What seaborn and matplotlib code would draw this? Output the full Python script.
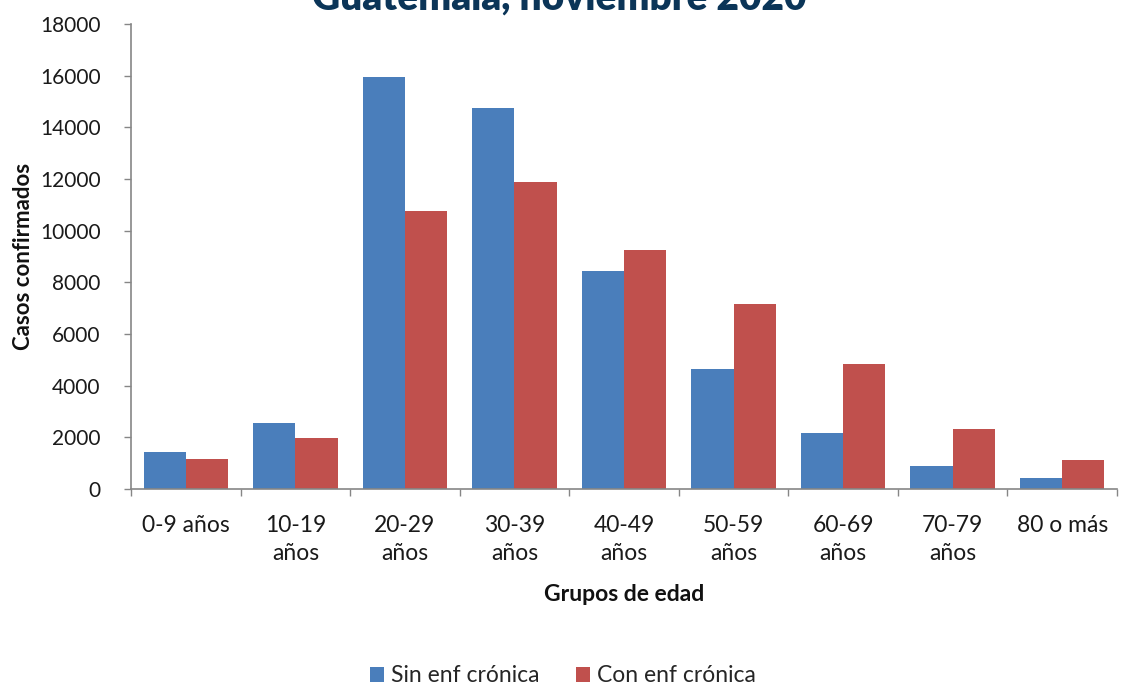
import matplotlib
matplotlib.use("Agg")
import matplotlib.pyplot as plt
import seaborn as sns
import pandas as pd
from matplotlib.patches import Patch

grupos = ["0-9 años", "10-19\naños", "20-29\naños", "30-39\naños", "40-49\naños",
          "50-59\naños", "60-69\naños", "70-79\naños", "80 o más"]
sin_enf = [1450, 2550, 15950, 14750, 8450, 4650, 2150, 900, 430]
con_enf = [1180, 1980, 10750, 11900, 9250, 7150, 4850, 2330, 1120]
series = ["Sin enf crónica", "Con enf crónica"]
colores = ["#4a7ebb", "#c0504d"]
yticks = list(range(0, 18001, 2000))

df = pd.DataFrame({
    "grupo": grupos * 2,
    "casos": sin_enf + con_enf,
    "serie": [series[0]] * len(grupos) + [series[1]] * len(grupos),
})

sns.set_theme(style="white")
plt.rcParams["font.family"] = ["Lato", "DejaVu Sans"]

fig = plt.figure(figsize=(11.23, 6.88), dpi=100)
ax = fig.add_axes([131 / 1123, 1 - 489 / 688, (1117 - 131) / 1123, (489 - 24) / 688])

sns.barplot(data=df, x="grupo", y="casos", hue="serie", palette=colores,
            width=0.77, saturation=1, linewidth=0, ax=ax, legend=False)

ax.set_xlim(-0.5, len(grupos) - 0.5)
ax.set_ylim(0, 18000)
ax.set_yticks(yticks)
ax.set_yticklabels([str(v) for v in yticks], fontsize=15, color="#1a1a1a")

# category labels centred under the bars, tick marks on the boundaries
ax.set_xticks([i - 0.5 for i in range(len(grupos) + 1)])
ax.set_xticklabels([])
ax.set_xticks(range(len(grupos)), minor=True)
ax.set_xticklabels(grupos, minor=True, fontsize=16.5, color="#1a1a1a", linespacing=1.45)
ax.tick_params(axis="x", which="major", length=5, width=1, color="#868686", direction="out", bottom=True)
ax.tick_params(axis="x", which="minor", length=0, pad=18.5)
ax.tick_params(axis="y", length=5, width=1, color="#868686", direction="out", left=True, pad=17)

for side in ["top", "right"]:
    ax.spines[side].set_visible(False)
for side in ["left", "bottom"]:
    ax.spines[side].set_color("#868686")
    ax.spines[side].set_linewidth(1.2)

ax.set_xlabel("Grupos de edad", fontsize=16.5, fontweight="bold", labelpad=14, color="#111111")
ax.set_ylabel("Casos confirmados", fontsize=16, fontweight="bold", labelpad=4, color="#111111")

fig.text(559 / 1123, 1 - 10 / 688, "Guatemala, noviembre 2020", ha="center", va="baseline",
         fontsize=28, fontweight="heavy", color="#0b3558")

handles = [Patch(facecolor=c, edgecolor="none", label=s) for c, s in zip(colores, series)]
fig.legend(handles=handles, loc="center", bbox_to_anchor=(563 / 1123, 1 - 676 / 688),
           ncol=2, frameon=False, fontsize=16.5, handlelength=0.6, handleheight=0.6,
           handletextpad=0.3, columnspacing=1.6)

fig.savefig("out.png", dpi=100)
